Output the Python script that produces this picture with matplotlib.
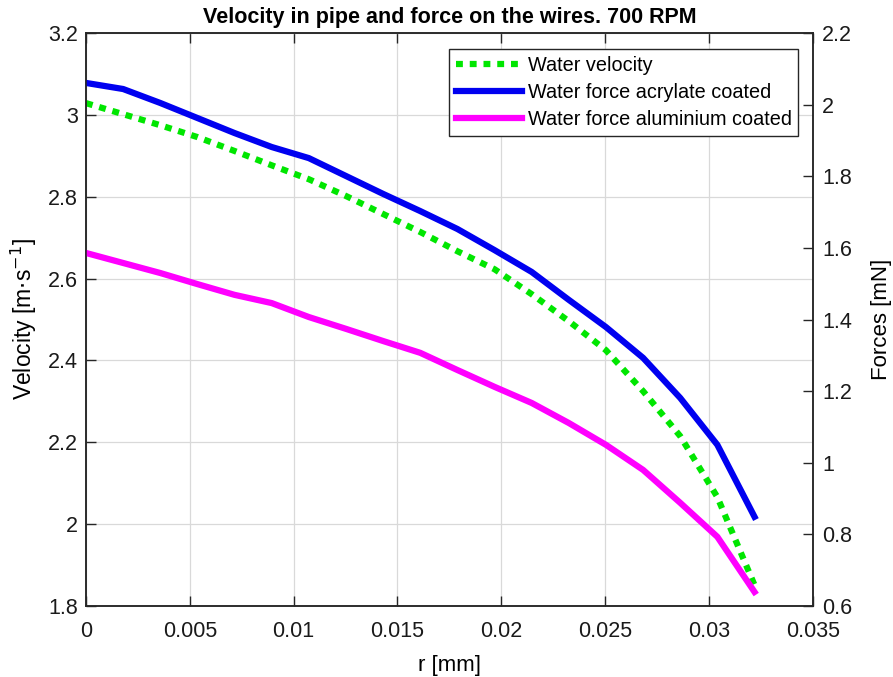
import numpy as np
import matplotlib.pyplot as plt
from matplotlib.ticker import FuncFormatter

plt.rcParams['font.family'] = ['Liberation Sans', 'DejaVu Sans']

# --- Data ---
r = np.linspace(0, 0.0322, 19)   # radial position [mm]
velocity = [3.029, 3.002, 2.975, 2.946, 2.912, 2.877, 2.843, 2.802, 2.758, 2.714,
            2.667, 2.623, 2.562, 2.496, 2.425, 2.325, 2.215, 2.066, 1.851]
force_acrylate = [2.061, 2.044, 2.005, 1.963, 1.921, 1.882, 1.851, 1.801, 1.751, 1.703,
                  1.653, 1.594, 1.533, 1.455, 1.379, 1.293, 1.181, 1.050, 0.849]
force_aluminium = [1.586, 1.558, 1.530, 1.499, 1.469, 1.446, 1.407, 1.374, 1.340, 1.307,
                   1.259, 1.212, 1.167, 1.111, 1.050, 0.980, 0.888, 0.793, 0.639]

fmt = FuncFormatter(lambda v, pos: f'{v:g}')
axcol = '#262626'

fig = plt.figure(figsize=(8.93, 6.77), dpi=100)
ax = fig.add_axes([0.0963, 0.105, 0.8137, 0.846])
ax2 = ax.twinx()

l1, = ax.plot(r, velocity, color='#00e600', lw=4.5, dashes=(1.1, 1.1),
              dash_capstyle='butt', label='Water velocity')
l2, = ax2.plot(r, force_acrylate, color='#0000f0', lw=4.5, label='Water force acrylate coated')
l3, = ax2.plot(r, force_aluminium, color='#ff00ff', lw=4.5, label='Water force aluminium coated')

ax.set_xlim(0, 0.035)
ax.set_ylim(1.8, 3.2)
ax2.set_ylim(0.6, 2.2)
ax.set_xticks(np.arange(0, 0.0351, 0.005))
ax.set_yticks(np.arange(1.8, 3.21, 0.2))
ax2.set_yticks(np.arange(0.6, 2.21, 0.2))
for a in (ax.xaxis, ax.yaxis, ax2.yaxis):
    a.set_major_formatter(fmt)

ax.grid(True, color='#d9d9d9', lw=0.9)
ax.set_axisbelow(True)
ax.tick_params(axis='both', direction='in', length=7, width=1, colors=axcol,
               labelsize=15.5, top=True, labelcolor='#1a1a1a')
ax.tick_params(axis='x', pad=11)
ax.tick_params(axis='y', pad=6)
ax2.tick_params(axis='y', direction='in', length=7, width=1, colors=axcol,
                labelsize=15.5, labelcolor='#1a1a1a', pad=7)
for a in (ax, ax2):
    for s in a.spines.values():
        s.set_color(axcol)
        s.set_linewidth(1.1)

ax.set_xlabel('r [mm]', fontsize=16, labelpad=9)
ax.set_ylabel('Velocity [m$\\cdot$s$^{-1}$]', fontsize=16.5, labelpad=6)
ax2.set_ylabel('Forces [mN]', fontsize=16, labelpad=13)
ax.set_title('Velocity in pipe and force on the wires. 700 RPM',
             fontsize=15.5, fontweight='bold', pad=7)

leg = ax2.legend(handles=[l1, l2, l3], loc='upper right', fontsize=14.3,
                 handlelength=3.3, handletextpad=0.3, borderpad=0.35,
                 labelspacing=0.4, fancybox=False, framealpha=1,
                 borderaxespad=0, bbox_to_anchor=(0.9805, 0.972))
leg.get_frame().set_edgecolor(axcol)
leg.get_frame().set_linewidth(1)

fig.savefig('out.png', dpi=100)
